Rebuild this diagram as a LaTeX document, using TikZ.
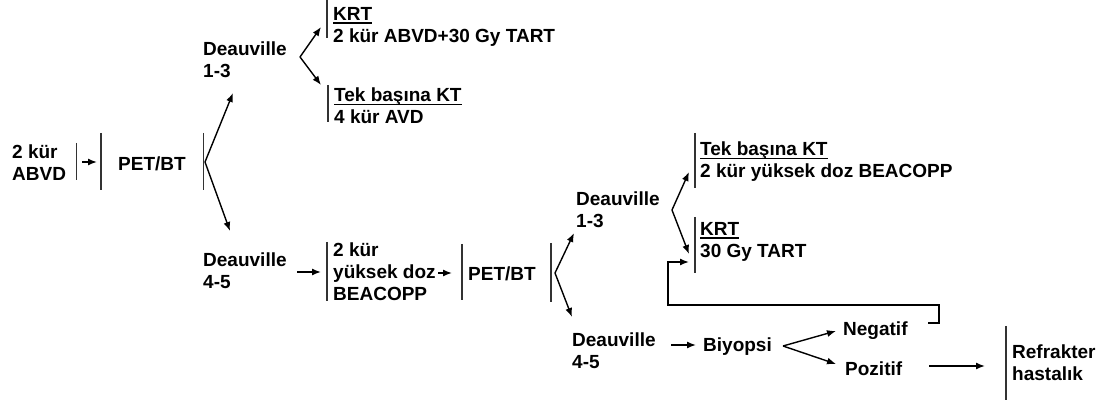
\documentclass[tikz,border=0pt]{standalone}
\usepackage{fontspec}
\setmainfont{Liberation Sans}
\usetikzlibrary{arrows.meta}
\newcommand\ulhdr[1]{\setbox0\hbox{#1}\rlap{\rule[-3.5pt]{\wd0}{1.8pt}}\box0}
\begin{document}
\begin{tikzpicture}[x=1pt,y=-1pt,
  txt/.style={inner sep=0pt, anchor=north west, align=left, font=\bfseries\fontsize{19}{22}\selectfont},
  bar/.style={line width=1.8pt, draw=black!80},
  arr/.style={line width=1.4pt, -{Latex[length=9pt,width=7pt]}},
  ln/.style={line width=1.4pt}]
\useasboundingbox (0,0) rectangle (1109,403);
% text nodes
\node[txt] (abvd) at (12,145) {2 kür\\ABVD};
\node[txt] (pet1) at (118,157) {PET/BT};
\node[txt] (d13a) at (203,42) {Deauville\\1-3};
\node[txt] (krt1) at (333,7) {\ulhdr{KRT}\\2 kür ABVD+30 Gy TART};
\node[txt] (tek1) at (334,88) {\ulhdr{Tek başına KT}\\4 kür AVD};
\node[txt] (d45a) at (203,253) {Deauville\\4-5};
\node[txt] (beac) at (333,243) {2 kür\\yüksek doz\\BEACOPP};
\node[txt] (pet2) at (468,267) {PET/BT};
\node[txt] (d13b) at (576,192) {Deauville\\1-3};
\node[txt] (tek2) at (700,142) {\ulhdr{Tek başına KT}\\2 kür yüksek doz BEACOPP};
\node[txt] (krt2) at (700,222) {\ulhdr{KRT}\\30 Gy TART};
\node[txt] (d45b) at (572,333) {Deauville\\4-5};
\node[txt] (biy) at (703,338) {Biyopsi};
\node[txt] (neg) at (843,322) {Negatif};
\node[txt] (poz) at (845,362) {Pozitif};
\node[txt] (ref) at (1012,345) {Refrakter\\hastalık};
% bars
\draw[bar] (76.5,143) -- (76.5,180);
\draw[bar] (101,133) -- (101,190);
\draw[bar] (203.5,133) -- (203.5,190);
\draw[bar] (327,0) -- (327,38);
\draw[bar] (328,85) -- (328,122);
\draw[bar] (327,242) -- (327,301);
\draw[bar] (462,244) -- (462,300);
\draw[bar] (551,243) -- (551,302);
\draw[bar] (695,133) -- (695,188);
\draw[bar] (695,217) -- (695,273);
\draw[bar] (1006,326) -- (1006,400);
% coordinates
\coordinate (a0) at (82,162); \coordinate (a1) at (97,162);
\coordinate (v1) at (205,162); \coordinate (t1u) at (233,93); \coordinate (t1d) at (230,231);
\coordinate (v2) at (300,57); \coordinate (t2u) at (321,27); \coordinate (t2d) at (321,85);
\coordinate (b0) at (297,272); \coordinate (b1) at (321,272);
\coordinate (c0) at (438,273); \coordinate (c1) at (452,273);
\coordinate (v3) at (555,273); \coordinate (t3u) at (574,233); \coordinate (t3d) at (572,317);
\coordinate (v4) at (672,210); \coordinate (t4u) at (689,172); \coordinate (t4d) at (689,254);
\coordinate (e0) at (671,345); \coordinate (e1) at (696,345);
\coordinate (v5) at (783,346); \coordinate (t5u) at (836,331); \coordinate (t5d) at (836,364);
\coordinate (f0) at (929,323); \coordinate (f1) at (939,305); \coordinate (f2) at (668,262); \coordinate (f3) at (689,262);
\coordinate (g0) at (929,366); \coordinate (g1) at (985,366);
% connectors
\draw[arr] (a0) -- (a1);
\draw[arr] (v1) -- (t1u);
\draw[arr] (v1) -- (t1d);
\draw[arr] (v2) -- (t2u);
\draw[arr] (v2) -- (t2d);
\draw[arr] (b0) -- (b1);
\draw[arr] (c0) -- (c1);
\draw[arr] (v3) -- (t3u);
\draw[arr] (v3) -- (t3d);
\draw[arr] (v4) -- (t4u);
\draw[arr] (v4) -- (t4d);
\draw[arr] (e0) -- (e1);
\draw[arr] (v5) -- (t5u);
\draw[arr] (v5) -- (t5d);
\draw[arr, line cap=rect] (f0) -| (f1) -| (f2) -- (f3);
\draw[arr] (g0) -- (g1);
\end{tikzpicture}
\end{document}
